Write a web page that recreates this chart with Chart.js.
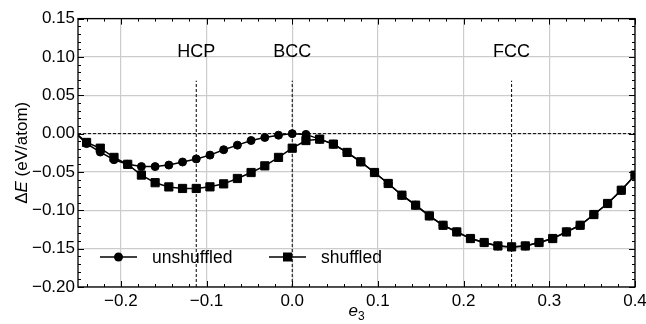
<!DOCTYPE html>
<html><head><meta charset="utf-8">
<script src="https://cdn.jsdelivr.net/npm/chart.js@4/dist/chart.umd.min.js"></script>
<style>html,body{margin:0;padding:0;background:#fff}#wrap{width:646px;height:324px;position:relative}</style>
</head><body><div id="wrap"><canvas id="c"></canvas></div>
<script>
// ---- data ----
const e3 = [-0.256, -0.24, -0.224, -0.208, -0.192, -0.176, -0.16, -0.144, -0.128, -0.112,
  -0.096, -0.08, -0.064, -0.048, -0.032, -0.016, 0, 0.016, 0.032, 0.048, 0.064, 0.08,
  0.096, 0.112, 0.128, 0.144, 0.16, 0.176, 0.192, 0.208, 0.224, 0.24, 0.256, 0.272,
  0.288, 0.304, 0.32, 0.336, 0.352, 0.368, 0.384, 0.4];
const unshuffled = [0.004, -0.013, -0.024, -0.034, -0.040, -0.043, -0.043, -0.041, -0.037, -0.033,
  -0.028, -0.021, -0.015, -0.009, -0.005, -0.002, 0.000, -0.001, -0.0072, -0.0137, -0.0245, -0.0368,
  -0.0507, -0.065, -0.0803, -0.0933, -0.1073, -0.1195, -0.1282, -0.1368, -0.142, -0.1465, -0.1477, -0.1465,
  -0.142, -0.1368, -0.1282, -0.1195, -0.1055, -0.0911, -0.0738, -0.0542];
const shuffled = [0.004, -0.0115, -0.019, -0.031, -0.040, -0.054, -0.064, -0.0695, -0.0715, -0.0715,
  -0.0694, -0.0655, -0.0585, -0.0507, -0.042, -0.031, -0.019, -0.009, -0.0072, -0.0137, -0.0245, -0.0368,
  -0.0507, -0.065, -0.0803, -0.0933, -0.1073, -0.1195, -0.1282, -0.1368, -0.142, -0.1465, -0.1477, -0.1465,
  -0.142, -0.1368, -0.1282, -0.1195, -0.1055, -0.0911, -0.0738, -0.0542];
const seriesNames = ['unshuffled', 'shuffled'];
const phaseNames = ['HCP', 'BCC', 'FCC'];
const phaseE3 = [-0.112, 0, 0.256];
const phaseLineTop = 0.069;
const phaseLabelY = 0.106;
const xTicks = [-0.2, -0.1, 0, 0.1, 0.2, 0.3, 0.4];
const xTickLabels = ['−0.2', '−0.1', '0.0', '0.1', '0.2', '0.3', '0.4'];
const yTicks = [-0.2, -0.15, -0.1, -0.05, 0, 0.05, 0.1, 0.15];
const yTickLabels = ['−0.20', '−0.15', '−0.10', '−0.05', '0.00', '0.05', '0.10', '0.15'];
const xMinor = [-0.24, -0.22, -0.18, -0.16, -0.14, -0.12, -0.08, -0.06, -0.04, -0.02, 0.02, 0.04, 0.06,
  0.08, 0.12, 0.14, 0.16, 0.18, 0.22, 0.24, 0.26, 0.28, 0.32, 0.34, 0.36, 0.38];
const yMinor = [-0.19, -0.18, -0.17, -0.16, -0.14, -0.13, -0.12, -0.11, -0.09, -0.08, -0.07, -0.06,
  -0.04, -0.03, -0.02, -0.01, 0.01, 0.02, 0.03, 0.04, 0.06, 0.07, 0.08, 0.09, 0.11, 0.12, 0.13, 0.14];
const xMin = -0.25, xMax = 0.4, yMin = -0.2, yMax = 0.15;

const FONT = '"Liberation Sans", Arial, Helvetica, sans-serif';

const inRange = c => (c.raw && c.raw.x >= xMin - 1e-9);

const deco = {
  id: 'deco',
  afterDraw(chart) {
    const { ctx, chartArea: a, scales: { x, y } } = chart;
    ctx.save();
    ctx.strokeStyle = '#000';
    ctx.lineWidth = 1;
    ctx.beginPath();
    const tx = (v, len) => {
      const p = Math.round(x.getPixelForValue(v)) + 0.5;
      ctx.moveTo(p, a.bottom); ctx.lineTo(p, a.bottom - len);
      ctx.moveTo(p, a.top); ctx.lineTo(p, a.top + len);
    };
    const ty = (v, len) => {
      const p = Math.round(y.getPixelForValue(v)) + 0.5;
      ctx.moveTo(a.left, p); ctx.lineTo(a.left + len, p);
      ctx.moveTo(a.right, p); ctx.lineTo(a.right - len, p);
    };
    xTicks.forEach(v => tx(v, 6)); xMinor.forEach(v => tx(v, 3));
    yTicks.forEach(v => ty(v, 6)); yMinor.forEach(v => ty(v, 3));
    ctx.stroke();
    ctx.lineWidth = 1.3;
    ctx.strokeRect(a.left, a.top, a.right - a.left, a.bottom - a.top);
    // phase labels
    ctx.fillStyle = '#000';
    ctx.font = '18px ' + FONT;
    ctx.textAlign = 'center';
    ctx.textBaseline = 'middle';
    phaseNames.forEach((n, i) => ctx.fillText(n, x.getPixelForValue(phaseE3[i]), y.getPixelForValue(phaseLabelY)));
    // legend
    ctx.font = '17.5px ' + FONT;
    const ly = a.bottom - 30;
    const lx = [a.left + 22, a.left + 191];
    ctx.lineWidth = 1.5;
    lx.forEach((x0, i) => {
      ctx.beginPath(); ctx.moveTo(x0, ly); ctx.lineTo(x0 + 37, ly); ctx.stroke();
      const cx = x0 + 18.5;
      ctx.beginPath();
      if (i === 0) { ctx.arc(cx, ly, 4.5, 0, Math.PI * 2); }
      else { ctx.rect(cx - 4.5, ly - 4.5, 9, 9); }
      ctx.fill();
      ctx.textAlign = 'left';
      ctx.fillText(seriesNames[i], x0 + 52, ly + 1);
    });
    // x axis title
    const cxT = (a.left + a.right) / 2;
    ctx.textBaseline = 'alphabetic';
    ctx.font = 'italic 17px ' + FONT;
    const we = ctx.measureText('e').width;
    ctx.font = '12px ' + FONT;
    const w3 = ctx.measureText('3').width;
    const sx = cxT - (we + w3) / 2;
    ctx.font = 'italic 17px ' + FONT;
    ctx.textAlign = 'left';
    ctx.fillText('e', sx, 316);
    ctx.font = '12px ' + FONT;
    ctx.fillText('3', sx + we, 320);
    // y axis title
    ctx.save();
    ctx.translate(22, (a.top + a.bottom) / 2);
    ctx.rotate(-Math.PI / 2);
    const parts = [['Δ', '17px '], ['E', 'italic 17px '], [' (eV/atom)', '17px ']];
    let tw = 0;
    parts.forEach(p => { ctx.font = p[1] + FONT; tw += ctx.measureText(p[0]).width; });
    let px = -tw / 2;
    ctx.textBaseline = 'middle';
    parts.forEach(p => { ctx.font = p[1] + FONT; ctx.fillText(p[0], px, 0); px += ctx.measureText(p[0]).width; });
    ctx.restore();
    ctx.restore();
  }
};

const dashed = (pts) => ({
  data: pts, borderColor: '#000', borderWidth: 1, borderDash: [3, 2],
  pointRadius: 0, pointHoverRadius: 0, fill: false, tension: 0
});

const datasets = [
  dashed([{ x: xMin, y: 0 }, { x: xMax, y: 0 }]),
  ...phaseE3.map(p => dashed([{ x: p, y: yMin }, { x: p, y: phaseLineTop }])),
  {
    label: seriesNames[0],
    data: e3.map((v, i) => ({ x: v, y: unshuffled[i] })),
    borderColor: '#000', backgroundColor: '#000', borderWidth: 1.5,
    pointStyle: 'circle', pointRadius: c => inRange(c) ? 4 : 0, pointBorderWidth: 1,
    pointBackgroundColor: '#000', pointBorderColor: '#000', tension: 0
  },
  {
    label: seriesNames[1],
    data: e3.map((v, i) => ({ x: v, y: shuffled[i] })),
    borderColor: '#000', backgroundColor: '#000', borderWidth: 1.5,
    pointStyle: 'rect', pointRadius: c => inRange(c) ? 5.8 : 0, pointBorderWidth: 1,
    pointBackgroundColor: '#000', pointBorderColor: '#000', tension: 0
  }
];

new Chart(document.getElementById('c'), {
  type: 'line',
  data: { datasets },
  options: {
    responsive: true, maintainAspectRatio: false, animation: false,
    events: [],
    layout: { padding: { left: 0, right: 11, top: 18.6, bottom: 0 } },
    plugins: { legend: { display: false }, tooltip: { enabled: false }, title: { display: false } },
    scales: {
      x: {
        type: 'linear', min: xMin, max: xMax,
        afterBuildTicks: s => { s.ticks = xTicks.map(v => ({ value: v })); },
        afterFit: s => { s.height = 37; s.paddingLeft = 0; s.paddingRight = 0; },
        ticks: {
          color: '#000', font: { family: FONT, size: 17 }, padding: 4, maxRotation: 0, autoSkip: false,
          callback: (v) => { const i = xTicks.findIndex(t => Math.abs(t - v) < 1e-9); return i >= 0 ? xTickLabels[i] : ''; }
        },
        grid: { color: '#cccccc', lineWidth: 1.2, drawTicks: false },
        border: { display: false }
      },
      y: {
        type: 'linear', min: yMin, max: yMax,
        afterBuildTicks: s => { s.ticks = yTicks.map(v => ({ value: v })); },
        afterFit: s => { s.width = 78; s.paddingTop = 0; s.paddingBottom = 0; },
        ticks: {
          color: '#000', font: { family: FONT, size: 17 }, padding: 3, autoSkip: false,
          callback: (v) => { const i = yTicks.findIndex(t => Math.abs(t - v) < 1e-9); return i >= 0 ? yTickLabels[i] : ''; }
        },
        grid: { color: '#cccccc', lineWidth: 1.2, drawTicks: false },
        border: { display: false }
      }
    }
  },
  plugins: [deco]
});
</script>
</body></html>
